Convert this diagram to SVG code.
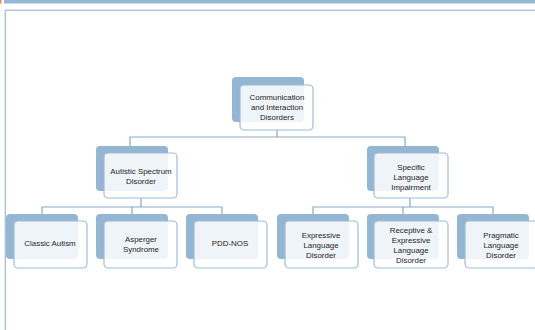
<svg xmlns="http://www.w3.org/2000/svg" width="535" height="330" viewBox="0 0 535 330">
<style>
.back{fill:#94b6d3;}
.front{fill:#ffffff;fill-opacity:0.85;stroke:#9ebcd8;stroke-width:1.2;}
.conn{stroke:#88a9c8;stroke-width:1.2;fill:none;}
text{font-family:"Liberation Sans","DejaVu Sans",sans-serif;font-size:7.9px;fill:#1e1e1e;text-anchor:middle;}
</style>
<rect width="535" height="330" fill="#ffffff"/>
<rect x="0" y="0" width="1.5" height="3.5" fill="#e88a4a"/>
<rect x="4" y="0" width="531" height="3.5" fill="#95b8d4"/>
<path d="M4.5 330 V9.5 H535" stroke="#e2e6ea" stroke-width="1" fill="none"/>
<path d="M5.5 330 V10.5 H535" stroke="#a9c4dc" stroke-width="1" fill="none"/>
<g id="connectors">
<path class="conn" d="M277 130 V137 M130 146 V137 H405 V146"/>
<path class="conn" d="M141 198 V207 M42 214 V207 H222 V214 M132 207 V214"/>
<path class="conn" d="M410 198 V207 M313 214 V207 H493 V214 M403 207 V214"/>
</g>
<g id="n-root">
<rect class="back" x="232" y="77" width="72" height="45" rx="4"/>
<rect class="front" x="240" y="85" width="73" height="45" rx="4"/>
<text x="277" y="100">Communication</text>
<text x="277" y="110">and Interaction</text>
<text x="277" y="120">Disorders</text>
</g>
<g id="n-asd">
<rect class="back" x="96" y="146" width="72" height="45" rx="4"/>
<rect class="front" x="104" y="153" width="73" height="45" rx="4"/>
<text x="141" y="174">Autistic Spectrum</text>
<text x="141" y="184">Disorder</text>
</g>
<g id="n-sli">
<rect class="back" x="367" y="146" width="72" height="45" rx="4"/>
<rect class="front" x="374" y="153" width="74" height="45" rx="4"/>
<text x="411" y="170">Specific</text>
<text x="411" y="180">Language</text>
<text x="411" y="190">Impairment</text>
</g>
<g id="n-classic">
<rect class="back" x="6" y="214" width="72" height="45" rx="4"/>
<rect class="front" x="14" y="221" width="73" height="47" rx="4"/>
<text x="50" y="246">Classic Autism</text>
</g>
<g id="n-asperger">
<rect class="back" x="96" y="214" width="72" height="45" rx="4"/>
<rect class="front" x="104" y="221" width="73" height="47" rx="4"/>
<text x="141" y="242">Asperger</text>
<text x="141" y="252">Syndrome</text>
</g>
<g id="n-pdd">
<rect class="back" x="186" y="214" width="72" height="45" rx="4"/>
<rect class="front" x="194" y="221" width="73" height="47" rx="4"/>
<text x="230" y="246">PDD-NOS</text>
</g>
<g id="n-expressive">
<rect class="back" x="277" y="214" width="72" height="45" rx="4"/>
<rect class="front" x="285" y="221" width="73" height="47" rx="4"/>
<text x="321" y="238">Expressive</text>
<text x="321" y="248">Language</text>
<text x="321" y="258">Disorder</text>
</g>
<g id="n-receptive">
<rect class="back" x="367" y="214" width="72" height="45" rx="4"/>
<rect class="front" x="374" y="221" width="74" height="47" rx="4"/>
<text x="411" y="233">Receptive &amp;</text>
<text x="411" y="243">Expressive</text>
<text x="411" y="253">Language</text>
<text x="411" y="263">Disorder</text>
</g>
<g id="n-pragmatic">
<rect class="back" x="457" y="214" width="72" height="45" rx="4"/>
<rect class="front" x="465" y="221" width="73" height="47" rx="4"/>
<text x="501" y="238">Pragmatic</text>
<text x="501" y="248">Language</text>
<text x="501" y="258">Disorder</text>
</g>
</svg>
